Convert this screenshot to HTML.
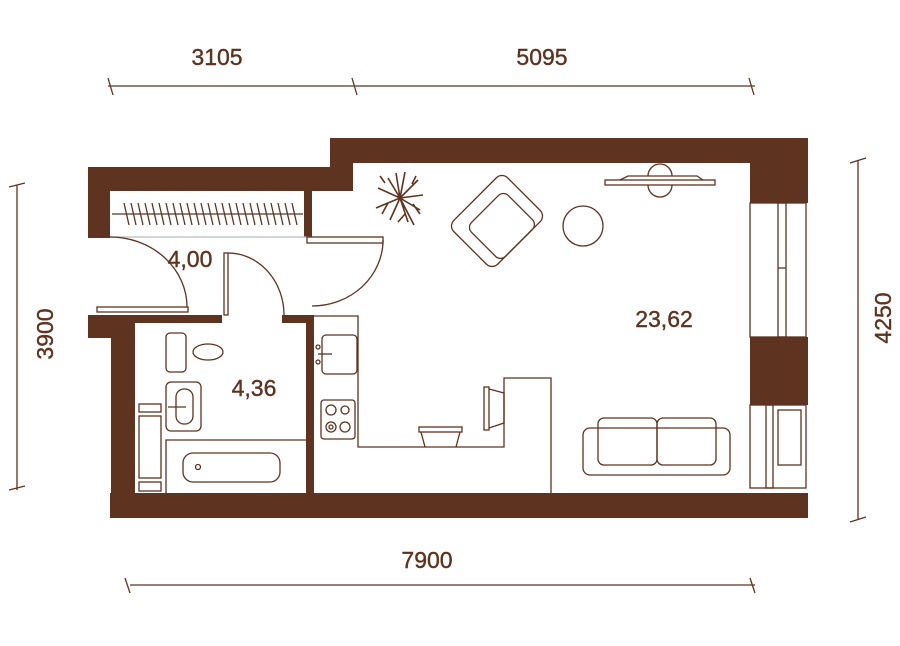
<!DOCTYPE html>
<html><head><meta charset="utf-8"><style>
html,body{margin:0;padding:0;background:#fff;}
svg{display:block}
text{font-family:"Liberation Sans",sans-serif;fill:#5e3320;font-size:23px;stroke:#5e3320;stroke-width:0.4;}
</style></head><body>
<svg width="900" height="646" viewBox="0 0 900 646" xmlns="http://www.w3.org/2000/svg">
<g fill="#5e3320" stroke="none">
<rect x="330" y="138" width="478" height="25"/>
<rect x="88" y="167" width="265" height="24"/>
<rect x="330" y="138" width="23" height="53"/>
<rect x="88" y="167" width="22" height="71"/>
<rect x="750" y="138" width="58" height="65"/>
<rect x="750" y="337" width="58" height="68"/>
<rect x="110" y="493" width="698" height="25"/>
<rect x="88" y="315" width="47" height="23"/>
<rect x="111" y="315" width="24" height="203"/>
<rect x="135" y="315" width="87" height="8"/>
<rect x="282" y="315" width="28" height="8"/>
<rect x="306" y="315" width="8" height="178"/>
<rect x="304" y="190" width="8" height="47"/>
</g>
<g fill="none" stroke="#5e3320" stroke-width="1.3">
<line x1="110" y1="237" x2="312" y2="237" stroke="#bbb"/>
<line x1="112" y1="214" x2="303" y2="214"/>
<path d="M124 203 l5 22 M131 203 l5 22 M138 203 l5 22 M145 203 l5 22 M152 203 l5 22 M159 203 l5 22 M166 203 l5 22 M173 203 l5 22 M180 203 l5 22 M187 203 l5 22 M194 203 l5 22 M201 203 l5 22 M208 203 l5 22 M215 203 l5 22 M222 203 l5 22 M229 203 l5 22 M236 203 l5 22 M243 203 l5 22 M250 203 l5 22 M257 203 l5 22 M264 203 l5 22 M271 203 l5 22 M278 203 l5 22 M285 203 l5 22 M292 203 l5 22"/>
<rect x="97" y="307" width="91" height="5"/>
<path d="M110 237 A77 70 0 0 1 187 307"/>
<rect x="224" y="253" width="4" height="62"/>
<path d="M228 253 A56 62 0 0 1 284 315"/>
<rect x="307" y="237" width="76" height="6"/>
<path d="M383 240 A71 66 0 0 1 312 306"/>
<rect x="750" y="203" width="56" height="134"/>
<rect x="778" y="203" width="8" height="134"/>
<line x1="778" y1="268" x2="786" y2="268"/>
<rect x="750" y="405" width="56" height="83"/>
<rect x="766" y="405" width="7" height="83"/>
<rect x="778" y="410" width="23" height="55"/>
<path d="M314 316 H358 V447 H504 V378 H551 V493"/>
<rect x="322" y="335" width="35" height="39" rx="4"/>
<line x1="318" y1="354" x2="332" y2="354"/>
<circle cx="318" cy="347" r="2"/><circle cx="318" cy="362" r="2"/>
<rect x="321" y="400" width="34" height="39" rx="3"/>
<circle cx="331" cy="410" r="5"/><circle cx="345" cy="410" r="4"/>
<circle cx="331" cy="427" r="5"/><circle cx="331" cy="427" r="2"/><circle cx="345" cy="427" r="5"/>
<rect x="484" y="387" width="5" height="43"/>
<path d="M489 389 L504 393 V423 L489 428"/>
<rect x="419" y="427" width="43" height="5"/>
<path d="M421 432 L425 447 M460 432 L456 447"/>
<rect x="166" y="333" width="20" height="39" rx="4"/>
<ellipse cx="208" cy="352" rx="15" ry="8"/>
<rect x="166" y="382" width="35" height="49" rx="5"/>
<rect x="176" y="389" width="17" height="35" rx="8"/>
<line x1="168" y1="407" x2="186" y2="407"/>
<path d="M166 493 V440 H306"/>
<rect x="183" y="453" width="97" height="29" rx="10"/>
<circle cx="198" cy="467" r="2.5"/>
<rect x="139" y="404" width="22" height="8"/>
<rect x="139" y="416" width="22" height="62"/>
<rect x="139" y="482" width="22" height="9"/>
<rect x="605" y="180" width="110" height="5"/>
<path d="M620 180 L628 176 H697 L703 180"/>
<path d="M648 176 A12 12 0 0 1 672 176 M648 185 A12 12 0 0 0 672 185"/>
<circle cx="583" cy="226" r="20"/>
<g transform="translate(497 221) rotate(-45)">
<rect x="-38" y="-31" width="76" height="62" rx="8"/>
<rect x="-26" y="-17" width="52" height="48" rx="7"/>
</g>
<rect x="583" y="428" width="147" height="47" rx="7"/>
<rect x="598" y="418" width="59" height="47" rx="6"/>
<rect x="657" y="418" width="59" height="47" rx="6"/>
<g stroke-width="1.6">
<path d="M400 198 L378 188 M400 198 L388 178 M400 198 L405 172 M400 198 L418 180 M400 198 L423 195 M400 198 L420 210 M400 198 L408 222 M400 198 L390 220 M400 198 L376 208 M400 198 L396 173 M400 198 L414 225 M385 183 L380 176 M388 203 L382 214 M412 184 L416 176 M413 204 L420 214 M405 214 L398 222"/>
</g>
<path d="M108 86 H755 M108 78 l5 17 M352 78 l5 17 M749 78 l5 17"/>
<path d="M17 185 V490 M9 187 l16 -4 M9 490 l16 -4"/>
<path d="M858 160 V520 M850 163 l16 -5 M850 522 l16 -5"/>
<path d="M130 585 H755 M125 578 l5 15 M750 578 l5 15"/>
</g>
<text x="217" y="65" text-anchor="middle">3105</text>
<text x="542" y="65" text-anchor="middle">5095</text>
<text x="427" y="568" text-anchor="middle">7900</text>
<text transform="translate(53 334) rotate(-90)" text-anchor="middle">3900</text>
<text transform="translate(891 318) rotate(-90)" text-anchor="middle">4250</text>
<text x="190" y="267" text-anchor="middle">4,00</text>
<text x="254" y="396" text-anchor="middle">4,36</text>
<text x="664" y="327" text-anchor="middle">23,62</text>
</svg>
</body></html>
